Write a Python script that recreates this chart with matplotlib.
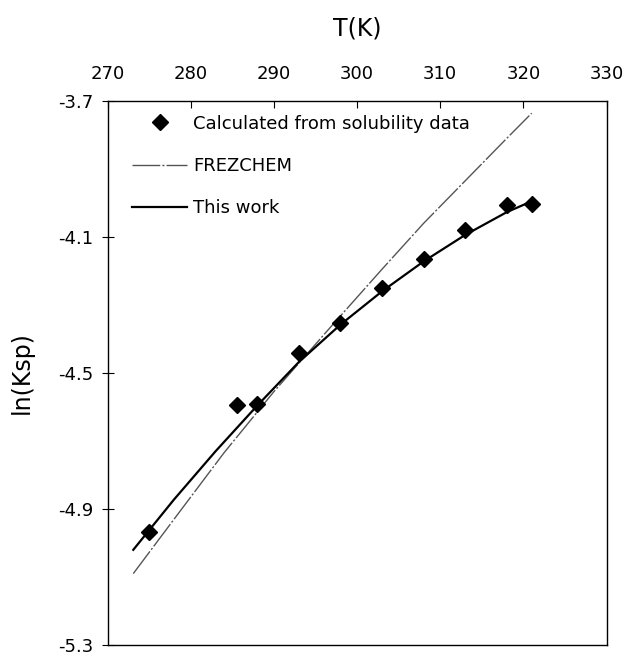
import numpy as np
import matplotlib
matplotlib.use("Agg")
import matplotlib.pyplot as plt

# data
T_calc = [275.0, 285.6, 288.0, 293.0, 298.0, 303.0, 308.0, 313.0, 318.0, 321.0]
lnK_calc = [-4.967, -4.593, -4.590, -4.442, -4.352, -4.250, -4.165, -4.080, -4.006, -4.003]

T_frez = [273.1, 278.0, 284.0, 290.0, 297.0, 303.0, 308.0, 313.0, 318.0, 321.0]
lnK_frez = [-5.09, -4.93, -4.735, -4.555, -4.36, -4.195, -4.06, -3.935, -3.81, -3.736]

T_this = [273.1, 278.0, 283.0, 288.0, 293.0, 298.0, 303.0, 308.0, 313.0, 318.0, 321.0]
lnK_this = [-5.02, -4.872, -4.73, -4.596, -4.468, -4.358, -4.26, -4.172, -4.094, -4.027, -3.995]

x_ticks = [270, 280, 290, 300, 310, 320, 330]
y_ticks = [-3.7, -4.1, -4.5, -4.9, -5.3]

plt.rcParams['font.family'] = ['DejaVu Sans']

fig = plt.figure(figsize=(6.24, 6.56), dpi=100)
ax = fig.add_axes([107.5 / 624, 1 - 645 / 656, 499 / 624, 544 / 656])

ax.plot(T_calc, lnK_calc, linestyle='none', marker='D', markersize=8.5,
        color='black', label='Calculated from solubility data', zorder=3)
ax.plot(T_frez, lnK_frez, color='#555555', linewidth=1.0,
        linestyle=(0, (20, 1.5, 1.5, 1.5)), label='FREZCHEM')
ax.plot(T_this, lnK_this, color='black', linewidth=1.6, label='This work')

ax.set_xlim(270, 330)
ax.set_ylim(-5.3, -3.7)
ax.set_xticks(x_ticks)
ax.set_yticks(y_ticks)
ax.set_yticklabels([f'{v:.1f}' for v in y_ticks])

ax.xaxis.tick_top()
ax.xaxis.set_label_position('top')
ax.tick_params(axis='x', direction='in', length=5, labelsize=13, pad=13)
ax.tick_params(axis='y', direction='inout', length=8, labelsize=13, pad=6)
ax.set_xlabel('T(K)', fontsize=17, labelpad=21)
ax.set_ylabel('ln(Ksp)', fontsize=17, labelpad=18)

for s in ax.spines.values():
    s.set_linewidth(1.0)

ax.legend(loc='upper left', bbox_to_anchor=(0.05, 0.975), frameon=False,
          fontsize=13, handlelength=3.0, handletextpad=0.35,
          labelspacing=1.35, borderaxespad=0, borderpad=0)

fig.savefig('out.png', dpi=100)
